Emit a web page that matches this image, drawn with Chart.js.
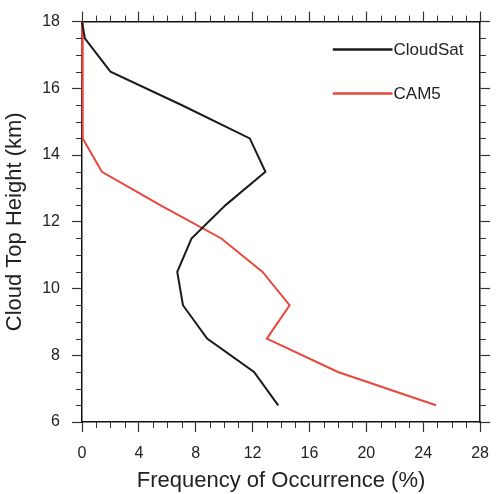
<!DOCTYPE html>
<html>
<head>
<meta charset="utf-8">
<script src="https://cdn.jsdelivr.net/npm/chart.js@4.4.0/dist/chart.umd.min.js"></script>
<style>
  html, body { margin: 0; padding: 0; background: #ffffff; }
  #wrap { width: 501px; height: 494px; }
</style>
</head>
<body>
<div id="wrap"><canvas id="c" width="501" height="494"></canvas></div>
<script>
// ---- data ----
const heights  = [18, 17.5, 16.5, 15.5, 14.5, 13.5, 12.5, 11.5, 10.5, 9.5, 8.5, 7.5, 6.5];
const cloudsat = [0, 0.2, 2.0, 7.0, 11.8, 12.9, 10.1, 7.7, 6.7, 7.1, 8.8, 12.1, 13.8];
const cam5     = [0, 0.05, 0.05, 0.05, 0.05, 1.4, 5.5, 9.8, 12.7, 14.6, 13.0, 18.0, 24.9];
const seriesNames = ['CloudSat', 'CAM5'];
const xTicksMajor = [0, 4, 8, 12, 16, 20, 24, 28];
const yTicksMajor = [6, 8, 10, 12, 14, 16, 18];
const xMinorStep = 1;
const yMinorStep = 0.5;

const FONT = "'Liberation Sans', Arial, Helvetica, sans-serif";
const BLACK = '#1a1a1a';
const RED = '#e8473c';

function pts(xs) { return xs.map((v, i) => ({ x: v, y: heights[i] })); }

// minor tick marks drawn through the chart's own scales
const minorTicks = {
  id: 'minorTicks',
  afterDraw(chart) {
    const ctx = chart.ctx;
    const a = chart.chartArea;
    const xs = chart.scales.x, ys = chart.scales.y;
    const len = 6;
    ctx.save();
    ctx.strokeStyle = '#333';
    ctx.lineWidth = 1;
    ctx.beginPath();
    for (let v = xs.min; v <= xs.max + 1e-9; v += xMinorStep) {
      if (xTicksMajor.includes(v)) continue;
      const px = Math.round(xs.getPixelForValue(v)) + 0.5;
      ctx.moveTo(px, a.bottom); ctx.lineTo(px, a.bottom + len);
      ctx.moveTo(px, a.top); ctx.lineTo(px, a.top - len);
    }
    for (let v = ys.min; v <= ys.max + 1e-9; v += yMinorStep) {
      if (yTicksMajor.includes(v)) continue;
      const py = Math.round(ys.getPixelForValue(v)) + 0.5;
      ctx.moveTo(a.left, py); ctx.lineTo(a.left - len, py);
      ctx.moveTo(a.right, py); ctx.lineTo(a.right + len, py);
    }
    ctx.stroke();
    ctx.restore();
  }
};

// in-plot legend (line sample + label)
const lineLegend = {
  id: 'lineLegend',
  afterDraw(chart) {
    const ctx = chart.ctx;
    const a = chart.chartArea;
    const x0 = a.left + (a.right - a.left) * 0.63;
    const x1 = a.left + (a.right - a.left) * 0.78;
    const rows = [a.top + 28, a.top + 72];
    ctx.save();
    chart.data.datasets.forEach((ds, i) => {
      const y = rows[i];
      ctx.strokeStyle = ds.borderColor;
      ctx.lineWidth = 2.5;
      ctx.beginPath();
      ctx.moveTo(x0, y); ctx.lineTo(x1, y);
      ctx.stroke();
      ctx.fillStyle = '#222';
      ctx.font = '17px ' + FONT;
      ctx.textBaseline = 'middle';
      ctx.textAlign = 'left';
      ctx.fillText(ds.label, x1 + 1, y + 1);
    });
    ctx.restore();
  }
};

const tickFont = { family: FONT, size: 16 };
const titleFont = { family: FONT, size: 22 };

new Chart(document.getElementById('c'), {
  type: 'scatter',
  data: {
    datasets: [
      { label: seriesNames[0], data: pts(cloudsat), borderColor: BLACK, backgroundColor: BLACK,
        showLine: true, pointRadius: 0, borderWidth: 2, tension: 0, clip: false },
      { label: seriesNames[1], data: pts(cam5), borderColor: RED, backgroundColor: RED,
        showLine: true, pointRadius: 0, borderWidth: 2, tension: 0, clip: false }
    ]
  },
  options: {
    responsive: false,
    animation: false,
    devicePixelRatio: 1,
    layout: { padding: 0 },
    plugins: { legend: { display: false }, tooltip: { enabled: false } },
    scales: {
      x: {
        type: 'linear', position: 'bottom', min: 0, max: 28,
        afterBuildTicks: s => { s.ticks = xTicksMajor.map(v => ({ value: v })); },
        ticks: { font: tickFont, color: '#222', padding: 12, maxRotation: 0 },
        grid: { drawOnChartArea: false, drawTicks: true, tickLength: 10, tickColor: '#333', tickWidth: 1.2 },
        border: { display: true, color: '#111', width: 1.5 },
        title: { display: true, text: 'Frequency of Occurrence (%)', font: titleFont, color: '#222', padding: 0 },
        afterFit: s => { s.height = 72; }
      },
      x2: {
        type: 'linear', position: 'top', min: 0, max: 28,
        afterBuildTicks: s => { s.ticks = xTicksMajor.map(v => ({ value: v })); },
        ticks: { display: false },
        grid: { drawOnChartArea: false, drawTicks: true, tickLength: 10, tickColor: '#333', tickWidth: 1.2 },
        border: { display: true, color: '#111', width: 1.5 },
        afterFit: s => { s.height = 20; }
      },
      y: {
        type: 'linear', position: 'left', min: 6, max: 18,
        afterBuildTicks: s => { s.ticks = yTicksMajor.map(v => ({ value: v })); },
        ticks: { font: tickFont, color: '#222', padding: 12 },
        grid: { drawOnChartArea: false, drawTicks: true, tickLength: 10, tickColor: '#333', tickWidth: 1.2 },
        border: { display: true, color: '#111', width: 1.5 },
        title: { display: true, text: 'Cloud Top Height (km)', font: titleFont, color: '#222', padding: 2 },
        afterFit: s => { s.width = 82; }
      },
      y2: {
        type: 'linear', position: 'right', min: 6, max: 18,
        afterBuildTicks: s => { s.ticks = yTicksMajor.map(v => ({ value: v })); },
        ticks: { display: false },
        grid: { drawOnChartArea: false, drawTicks: true, tickLength: 10, tickColor: '#333', tickWidth: 1.2 },
        border: { display: true, color: '#111', width: 1.5 },
        afterFit: s => { s.width = 19; }
      }
    }
  },
  plugins: [minorTicks, lineLegend]
});
</script>
</body>
</html>
